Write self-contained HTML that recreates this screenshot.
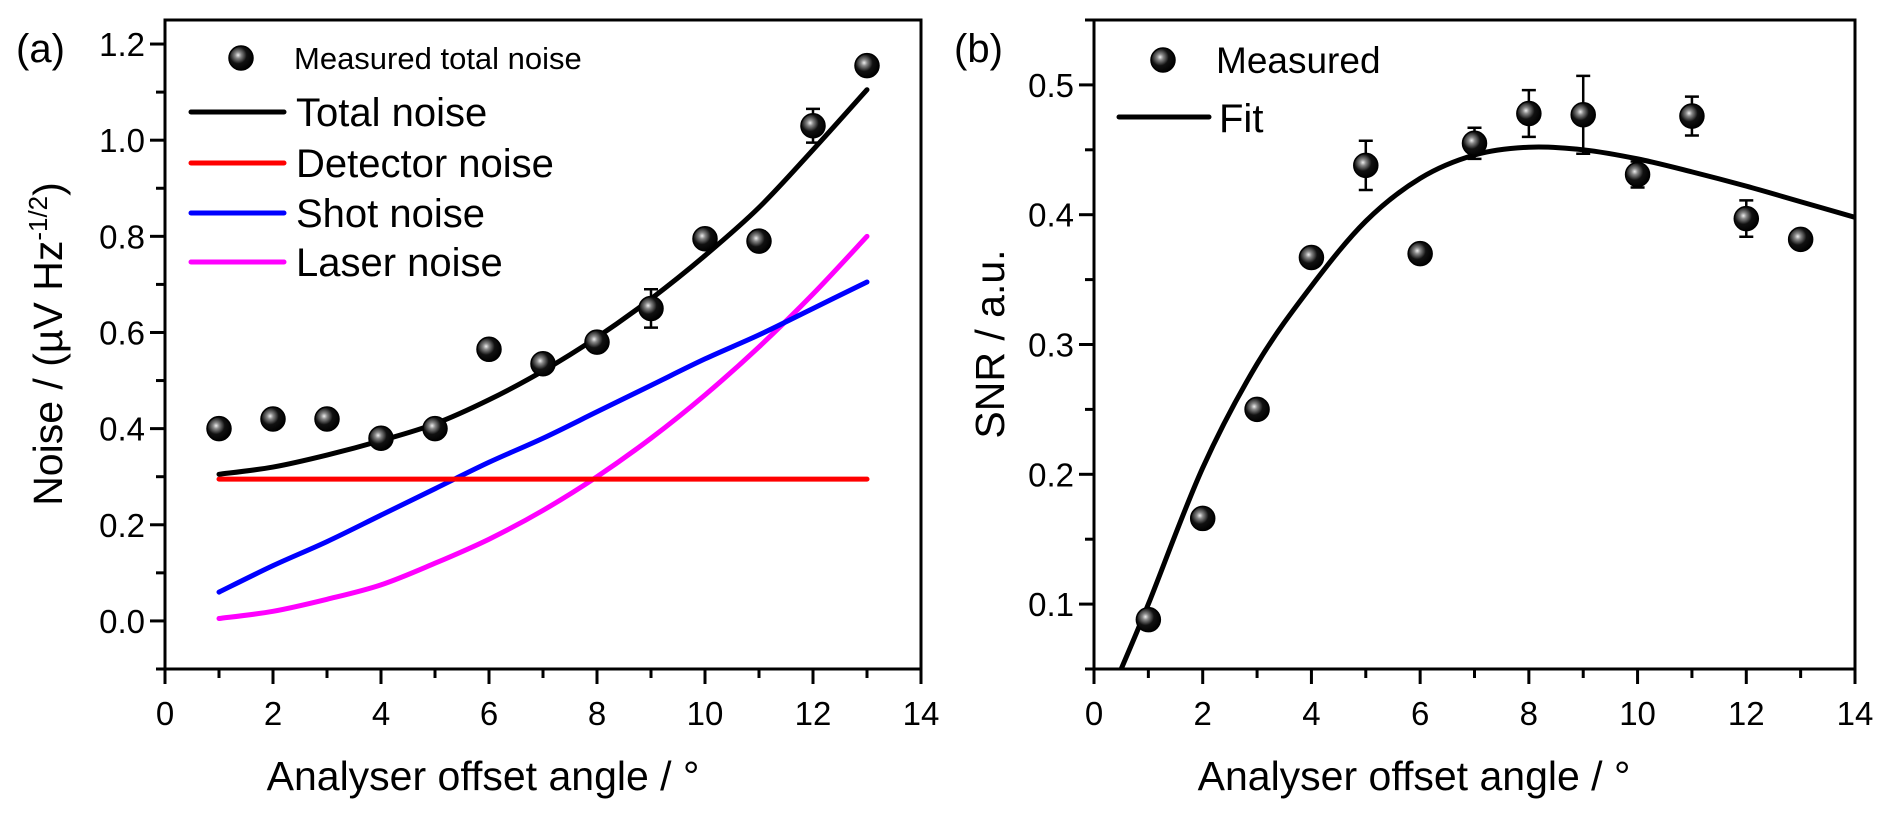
<!DOCTYPE html>
<html><head><meta charset="utf-8"><style>
body{margin:0;background:#fff}
svg{display:block;font-family:"Liberation Sans",sans-serif}
</style></head><body>
<svg id="fig" width="1892" height="817" viewBox="0 0 1892 817">
<defs>
<radialGradient id="ball" cx="0.38" cy="0.38" r="0.65">
<stop offset="0" stop-color="#eee"/><stop offset="0.2" stop-color="#888"/><stop offset="0.55" stop-color="#111"/><stop offset="1" stop-color="#000"/>
</radialGradient>
</defs>
</svg>
<script>
const xA=[1,2,3,4,5,6,7,8,9,10,11,12,13];
const measA=[0.40,0.42,0.42,0.38,0.40,0.565,0.535,0.58,0.65,0.795,0.79,1.03,1.155];
const errA=[0.01,0.01,0.01,0.01,0.01,0.01,0.01,0.01,0.04,0.01,0.02,0.035,0.01];
const totalA=[0.305,0.32,0.345,0.375,0.41,0.46,0.52,0.59,0.67,0.76,0.86,0.98,1.105];
const detA=[0.295,0.295,0.295,0.295,0.295,0.295,0.295,0.295,0.295,0.295,0.295,0.295,0.295];
const shotA=[0.06,0.115,0.165,0.22,0.275,0.33,0.38,0.435,0.49,0.545,0.595,0.65,0.705];
const laserA=[0.005,0.02,0.045,0.075,0.12,0.17,0.23,0.30,0.38,0.47,0.57,0.68,0.80];
const xTicks=[0,2,4,6,8,10,12,14];
const yTicksA=[0.0,0.2,0.4,0.6,0.8,1.0,1.2];
const xB=[1,2,3,4,5,6,7,8,9,10,11,12,13];
const measB=[0.088,0.166,0.25,0.367,0.438,0.37,0.455,0.478,0.477,0.431,0.476,0.397,0.381];
const errB=[0.004,0.004,0.004,0.004,0.019,0.004,0.012,0.018,0.03,0.01,0.015,0.014,0.004];
const fitX=[0.5,1,2,3,4,5,6,7,8,9,10,11,12,13,14];
const fitB=[0.05,0.10,0.205,0.285,0.345,0.395,0.428,0.446,0.452,0.450,0.443,0.433,0.422,0.41,0.398];
const yTicksB=[0.1,0.2,0.3,0.4,0.5];

const svg=document.getElementById('fig');
const NS='http://www.w3.org/2000/svg';
function mk(tag,attrs,parent){const e=document.createElementNS(NS,tag);for(const k in attrs)e.setAttribute(k,attrs[k]);(parent||svg).appendChild(e);return e;}
function txt(x,y,s,size,anchor,parent){const t=mk('text',{x:x,y:y,'font-size':size,'text-anchor':anchor||'start',fill:'#000'},parent);t.textContent=s;return t;}
function smooth(pts){let d='M'+pts[0][0]+','+pts[0][1];for(let i=0;i<pts.length-1;i++){const p0=pts[i-1]||pts[i],p1=pts[i],p2=pts[i+1],p3=pts[i+2]||p2;
d+=' C'+(p1[0]+(p2[0]-p0[0])/6)+','+(p1[1]+(p2[1]-p0[1])/6)+' '+(p2[0]-(p3[0]-p1[0])/6)+','+(p2[1]-(p3[1]-p1[1])/6)+' '+p2[0]+','+p2[1];}return d;}

function panel(o){
  const g=mk('g',{});
  
  
  const X=v=>o.L+(v-o.x0)/(o.x1-o.x0)*(o.R-o.L);
  const Y=v=>o.B-(v-o.y0)/(o.y1-o.y0)*(o.B-o.T);
  const xt=mk('g',{},g);
  for(let v=o.x0;v<=o.x1;v+=1){const maj=v%2===0;mk('line',{x1:X(v),x2:X(v),y1:o.B,y2:o.B+(maj?15:9),stroke:'#000','stroke-width':3},xt);}
  xTicks.forEach(v=>txt(X(v),725,String(v),33,'middle',xt));
  const yt=mk('g',{},g);
  for(let k=0;;k++){const v=o.ymin0+k*o.minor;if(v>o.y1+1e-9)break;if(v<o.y0-1e-9)continue;
    const maj=Math.abs(Math.round(v/o.major)*o.major-v)<1e-6;mk('line',{x1:o.L,x2:o.L-(maj?15:9),y1:Y(v),y2:Y(v),stroke:'#000','stroke-width':3},yt);}
  o.yTicks.forEach(v=>txt(o.L-20,Y(v)+12,v.toFixed(1),33,'end',yt));
  const fr=mk('rect',{x:o.L,y:o.T,width:o.R-o.L,height:o.B-o.T,fill:'none',stroke:'#000','stroke-width':3},g);
  
  return {g,X,Y};
}
function ball(x,y,r,parent,name){const c=mk('circle',{cx:x,cy:y,r:r,fill:'url(#ball)',stroke:'#000','stroke-width':1.5},parent);return c;}
function errbar(x,y1,y2,parent){const e=mk('path',{d:`M${x},${y1}V${y2}M${x-7},${y1}H${x+7}M${x-7},${y2}H${x+7}`,stroke:'#000','stroke-width':2.5,fill:'none'},parent);}

// Panel A
const A=panel({name:'panel-a',L:165,R:921,T:20,B:669,x0:0,x1:14,y0:-0.1,y1:1.25,ymin0:-0.1,minor:0.1,major:0.2,yTicks:yTicksA});
[[laserA,'#ff00ff','laser-noise-line'],[shotA,'#0000ff','shot-noise-line'],[detA,'#ff0000','detector-noise-line'],[totalA,'#000','total-noise-line']].forEach(([arr,col,nm])=>{
  const p=mk('path',{d:smooth(xA.map((x,i)=>[A.X(x),A.Y(arr[i])])),stroke:col,'stroke-width':5,fill:'none','stroke-linecap':'round'},A.g);
  
});
xA.forEach((x,i)=>{errbar(A.X(x),A.Y(measA[i]+errA[i]),A.Y(measA[i]-errA[i]),A.g);ball(A.X(x),A.Y(measA[i]),12,A.g,'measured-point');});
const legA=mk('g',{},A.g);
ball(241,58,12,legA,'legend-marker-measured');txt(294,69,'Measured total noise',31,'start',legA);
[['Total noise','#000',112],['Detector noise','#ff0000',163],['Shot noise','#0000ff',213],['Laser noise','#ff00ff',262]].forEach(([t,c,y])=>{
  mk('line',{x1:191,x2:284,y1:y,y2:y,stroke:c,'stroke-width':5,'stroke-linecap':'round'},legA);txt(296,y+14,t,40,'start',legA);});
txt(16,62,'(a)',40,'start');
txt(483,790,'Analyser offset angle / °',41,'middle');
const ya=mk('text',{x:0,y:0,'font-size':41,'text-anchor':'middle',transform:'translate(62,344) rotate(-90)'});

ya.innerHTML='Noise / (µV Hz<tspan dy="-15" font-size="26">-1/2</tspan><tspan dy="15">)</tspan>';

// Panel B
const Bp=panel({name:'panel-b',L:1094,R:1855,T:20,B:669,x0:0,x1:14,y0:0.05,y1:0.55,ymin0:0.05,minor:0.05,major:0.1,yTicks:yTicksB});
const clip=mk('clipPath',{id:'cb'});mk('rect',{x:1094,y:20,width:761,height:649},clip);
const fp=mk('path',{d:smooth(fitX.map((x,i)=>[Bp.X(x),Bp.Y(fitB[i])])),stroke:'#000','stroke-width':5,fill:'none','clip-path':'url(#cb)'},Bp.g);

xB.forEach((x,i)=>{errbar(Bp.X(x),Bp.Y(measB[i]+errB[i]),Bp.Y(measB[i]-errB[i]),Bp.g);ball(Bp.X(x),Bp.Y(measB[i]),12,Bp.g,'measured-point');});
const legB=mk('g',{},Bp.g);
ball(1163,60,12,legB,'legend-marker-measured');txt(1216,73,'Measured',37,'start',legB);
mk('line',{x1:1119,x2:1209,y1:117,y2:117,stroke:'#000','stroke-width':5,'stroke-linecap':'round'},legB);txt(1219,132,'Fit',40,'start',legB);
txt(954,62,'(b)',40,'start');
txt(1414,790,'Analyser offset angle / °',41,'middle');
const yb=mk('text',{x:0,y:0,'font-size':41,'text-anchor':'middle',transform:'translate(1004,344) rotate(-90)'});
yb.textContent='SNR / a.u.';
</script>
</body></html>
